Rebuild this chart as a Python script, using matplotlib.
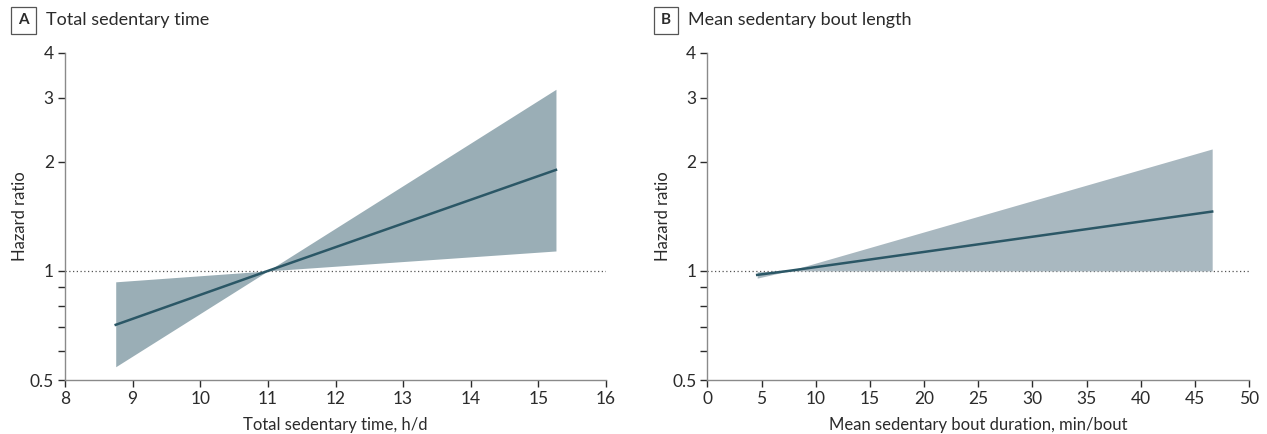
import numpy as np
import matplotlib.pyplot as plt
from matplotlib.ticker import FixedLocator, NullFormatter

plt.rcParams['font.family'] = ['Lato', 'DejaVu Sans']

# panel A: total sedentary time
time_x = [8.75, 11.0, 15.26]
time_hr = [0.71, 1.0, 1.90]
time_lo = [0.544, 1.0, 1.135]
time_hi = [0.933, 1.0, 3.17]

# panel B: mean sedentary bout length
bout_x = [4.6, 7.5, 46.6]
bout_hr = [0.975, 1.0, 1.458]
bout_lo = [0.955, 1.0, 1.0]
bout_hi = [0.995, 1.0, 2.17]

yticks = [0.5, 1, 2, 3, 4]
yminor = [0.6, 0.7, 0.8, 0.9]

line_c = '#2b5766'
spine_c = '#8a8a8a'
txt_c = '#2b2b2b'

fig = plt.figure(figsize=(12.67, 4.34), dpi=100)
axA = fig.add_axes([0.0513, 0.1244, 0.4270, 0.7542])
axB = fig.add_axes([0.5583, 0.1244, 0.4275, 0.7542])


def style(ax, xlim, xticks, xlabel):
    ax.set_yscale('log')
    ax.set_ylim(0.5, 4)
    ax.set_xlim(*xlim)
    ax.yaxis.set_major_locator(FixedLocator(yticks))
    ax.yaxis.set_minor_locator(FixedLocator(yminor))
    ax.yaxis.set_minor_formatter(NullFormatter())
    ax.set_yticklabels(['0.5', '1', '2', '3', '4'])
    ax.set_xticks(xticks)
    for s in ['top', 'right']:
        ax.spines[s].set_visible(False)
    for s in ['left', 'bottom']:
        ax.spines[s].set_color(spine_c)
        ax.spines[s].set_linewidth(1.0)
    ax.tick_params(which='both', direction='out', length=5, width=1,
                   color=txt_c, labelsize=12.5, labelcolor=txt_c, pad=3)
    ax.tick_params(axis='x', pad=3)
    ax.axhline(1, color='#555555', lw=0.9, ls=(0, (1, 2)), zorder=1)
    ax.set_xlabel(xlabel, fontsize=12, color=txt_c, labelpad=7)
    ax.set_ylabel('Hazard ratio', fontsize=12, color=txt_c, labelpad=1)


style(axA, (8, 16), range(8, 17), 'Total sedentary time, h/d')
axA.fill_between(time_x, time_lo, time_hi, color='#9aaeb6', lw=0, zorder=2)
axA.plot(time_x, time_hr, color=line_c, lw=1.8, zorder=3)

style(axB, (0, 50), range(0, 51, 5), 'Mean sedentary bout duration, min/bout')
axB.fill_between(bout_x, bout_lo, bout_hi, color='#a9b8c0', lw=0, zorder=2)
axB.plot(bout_x, bout_hr, color=line_c, lw=1.8, zorder=3)

for x, letter, title in [(0.0095, 'A', 'Total sedentary time'),
                         (0.5165, 'B', 'Mean sedentary bout length')]:
    fig.text(x + 0.009, 0.953, letter, fontsize=11, fontweight='bold',
             color=txt_c, ha='center', va='center',
             bbox=dict(boxstyle='square,pad=0.45', fc='white', ec='#555555', lw=0.9))
    fig.text(x + 0.0265, 0.953, title, fontsize=13, color=txt_c,
             ha='left', va='center')

fig.savefig('out.png', dpi=100)
